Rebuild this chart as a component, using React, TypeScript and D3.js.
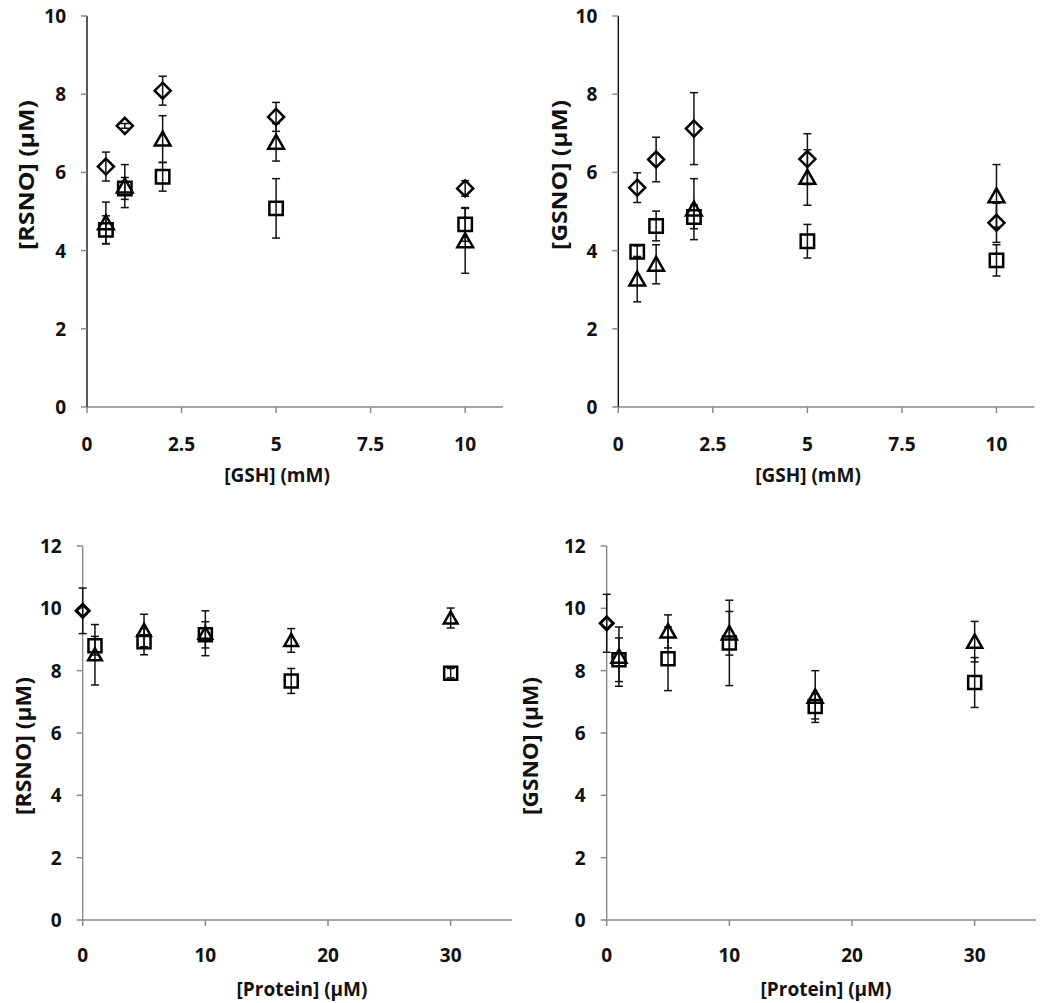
import React from "react";
import * as d3 from "d3";

// ---------- DATA ----------
const gshX = [0.5, 1, 2, 5, 10];
const protX = [1, 5, 10, 17, 30];
const ctrlX = [0];

const gshTicks = [0, 2.5, 5, 7.5, 10];
const protTicks = [0, 10, 20, 30];
const topYTicks = [0, 2, 4, 6, 8, 10];
const botYTicks = [0, 2, 4, 6, 8, 10, 12];

// top-left: [RSNO] vs [GSH]
const aDiamond = [6.15, 7.19, 8.09, 7.42, 5.59];
const aDiamondErr = [0.37, 0.06, 0.37, 0.37, 0.2];
const aSquare = [4.53, 5.59, 5.89, 5.08, 4.67];
const aSquareErr = [0.36, 0.28, 0.37, 0.76, 0.43];
const aTriangle = [4.71, 5.65, 6.85, 6.77, 4.25];
const aTriangleErr = [0.53, 0.55, 0.6, 0.48, 0.83];

// top-right: [GSNO] vs [GSH]
const bDiamond = [5.61, 6.33, 7.12, 6.34, 4.71];
const bDiamondErr = [0.38, 0.57, 0.92, 0.65, 0.5];
const bSquare = [3.97, 4.63, 4.86, 4.24, 3.75];
const bSquareErr = [0.15, 0.38, 0.3, 0.43, 0.4];
const bTriangle = [3.27, 3.65, 5.06, 5.87, 5.4];
const bTriangleErr = [0.58, 0.5, 0.78, 0.71, 0.8];

// bottom-left: [RSNO] vs [Protein]
const cDiamond = [9.92];
const cDiamondErr = [0.73];
const cSquare = [8.8, 8.93, 9.15, 7.67, 7.92];
const cSquareErr = [0.3, 0.42, 0.42, 0.4, 0.15];
const cTriangle = [8.51, 9.29, 9.2, 8.97, 9.69];
const cTriangleErr = [0.97, 0.52, 0.72, 0.38, 0.32];

// bottom-right: [GSNO] vs [Protein]
const dDiamond = [9.52];
const dDiamondErr = [0.93];
const dSquare = [8.35, 8.38, 8.89, 6.85, 7.62];
const dSquareErr = [0.7, 1.02, 1.37, 0.4, 0.8];
const dTriangle = [8.45, 9.26, 9.2, 7.17, 8.93];
const dTriangleErr = [0.95, 0.53, 0.7, 0.83, 0.65];

// ---------- RENDERING ----------
const FONT = "'Open Sans', sans-serif";

type Series = { shape: "diamond" | "square" | "triangle"; xs: number[]; ys: number[]; err: number[]; size: number; sw: number };

type PanelCfg = {
  x0: number; x1: number; y0: number; y1: number;
  xMax: number; yMax: number;
  xTicks: number[]; yTicks: number[];
  xTitle: string; yTitle: string;
  xTitlePos: [number, number]; yTitlePos: [number, number]; yTitleLen: number;
  xLabelY: number; yAxisColor: string;
  series: Series[];
};

function markerPath(shape: string, s: number) {
  if (shape === "diamond") return `M0,${-s}L${s},0L0,${s}L${-s},0Z`;
  if (shape === "square") return `M${-s},${-s}H${s}V${s}H${-s}Z`;
  return `M0,${-s}L${s * 1.05},${s * 0.85}H${-s * 1.05}Z`;
}

function Panel({ cfg }: { cfg: PanelCfg }) {
  const x = d3.scaleLinear().domain([0, cfg.xMax]).range([cfg.x0, cfg.x1]);
  const y = d3.scaleLinear().domain([0, cfg.yMax]).range([cfg.y0, cfg.y1]);
  const grey = "#8a8a8a";
  return (
    <g>
      {/* x axis */}
      <line x1={cfg.x0} x2={cfg.x1} y1={cfg.y0} y2={cfg.y0} stroke={grey} strokeWidth={1.5} />
      {cfg.xTicks.map((t) => (
        <g key={"xt" + t}>
          <line x1={x(t)} x2={x(t)} y1={cfg.y0} y2={cfg.y0 + 6} stroke={grey} strokeWidth={1.5} />
          <text x={x(t)} y={cfg.xLabelY} textAnchor="middle" dominantBaseline="central" fontFamily={FONT} fontWeight={700} fontSize={19} fill="#111">{t}</text>
        </g>
      ))}
      {/* y axis */}
      <line x1={cfg.x0} x2={cfg.x0} y1={cfg.y0} y2={y(cfg.yMax)} stroke={cfg.yAxisColor} strokeWidth={1.4} />
      {cfg.yTicks.map((t) => (
        <g key={"yt" + t}>
          <line x1={cfg.x0 - 6} x2={cfg.x0} y1={y(t)} y2={y(t)} stroke={grey} strokeWidth={1.5} />
          <text x={cfg.x0 - 21} y={y(t)} textAnchor="end" dominantBaseline="central" fontFamily={FONT} fontWeight={700} fontSize={19} fill="#111">{t}</text>
        </g>
      ))}
      {/* titles */}
      <text x={cfg.xTitlePos[0]} y={cfg.xTitlePos[1]} textAnchor="middle" dominantBaseline="central" fontFamily={FONT} fontWeight={700} fontSize={19} fill="#111">{cfg.xTitle}</text>
      <text transform={`translate(${cfg.yTitlePos[0]},${cfg.yTitlePos[1]}) rotate(-90)`} textAnchor="middle" dominantBaseline="central" fontFamily={FONT} fontWeight={700} fontSize={21} fill="#111" textLength={cfg.yTitleLen} lengthAdjust="spacingAndGlyphs">{cfg.yTitle}</text>
      {/* error bars */}
      {cfg.series.map((s, si) =>
        s.xs.map((xv, i) => {
          const px = x(xv);
          const top = y(s.ys[i] + s.err[i]);
          const bot = y(s.ys[i] - s.err[i]);
          return (
            <g key={`e${si}-${i}`} stroke="#111" strokeWidth={1.5}>
              <line x1={px} x2={px} y1={top} y2={bot} />
              <line x1={px - 4} x2={px + 4} y1={top} y2={top} />
              <line x1={px - 4} x2={px + 4} y1={bot} y2={bot} />
            </g>
          );
        })
      )}
      {/* markers */}
      {cfg.series.map((s, si) =>
        s.xs.map((xv, i) => (
          <path key={`m${si}-${i}`} transform={`translate(${x(xv)},${y(s.ys[i])})`} d={markerPath(s.shape, s.size)} fill="none" stroke="#000" strokeWidth={s.sw} strokeLinejoin="miter" />
        ))
      )}
    </g>
  );
}

const panels: PanelCfg[] = [
  {
    x0: 87, x1: 503, y0: 407, y1: 16, xMax: 11, yMax: 10,
    xTicks: gshTicks, yTicks: topYTicks, xTitle: "[GSH] (mM)", yTitle: "[RSNO] (μM)",
    xTitlePos: [277, 475], yTitlePos: [26, 175], yTitleLen: 150, xLabelY: 444, yAxisColor: "#111",
    series: [
      { shape: "diamond", xs: gshX, ys: aDiamond, err: aDiamondErr, size: 8, sw: 2.5 },
      { shape: "square", xs: gshX, ys: aSquare, err: aSquareErr, size: 6.7, sw: 2.5 },
      { shape: "triangle", xs: gshX, ys: aTriangle, err: aTriangleErr, size: 7.5, sw: 2.5 },
    ],
  },
  {
    x0: 618.3, x1: 1034.3, y0: 407, y1: 16, xMax: 11, yMax: 10,
    xTicks: gshTicks, yTicks: topYTicks, xTitle: "[GSH] (mM)", yTitle: "[GSNO] (μM)",
    xTitlePos: [808, 475], yTitlePos: [559, 175], yTitleLen: 150, xLabelY: 444, yAxisColor: "#111",
    series: [
      { shape: "diamond", xs: gshX, ys: bDiamond, err: bDiamondErr, size: 8, sw: 2.5 },
      { shape: "square", xs: gshX, ys: bSquare, err: bSquareErr, size: 6.7, sw: 2.5 },
      { shape: "triangle", xs: gshX, ys: bTriangle, err: bTriangleErr, size: 7.5, sw: 2.5 },
    ],
  },
  {
    x0: 82.7, x1: 512, y0: 920, y1: 546, xMax: 35, yMax: 12,
    xTicks: protTicks, yTicks: botYTicks, xTitle: "[Protein] (μM)", yTitle: "[RSNO] (μM)",
    xTitlePos: [302, 989], yTitlePos: [23, 746], yTitleLen: 138, xLabelY: 955, yAxisColor: "#8a8a8a",
    series: [
      { shape: "diamond", xs: ctrlX, ys: cDiamond, err: cDiamondErr, size: 6.5, sw: 3 },
      { shape: "square", xs: protX, ys: cSquare, err: cSquareErr, size: 6.5, sw: 2.5 },
      { shape: "triangle", xs: protX, ys: cTriangle, err: cTriangleErr, size: 6.5, sw: 2.5 },
    ],
  },
  {
    x0: 606.7, x1: 1036, y0: 920, y1: 546, xMax: 35, yMax: 12,
    xTicks: protTicks, yTicks: botYTicks, xTitle: "[Protein] (μM)", yTitle: "[GSNO] (μM)",
    xTitlePos: [826, 989], yTitlePos: [530, 746], yTitleLen: 138, xLabelY: 955, yAxisColor: "#8a8a8a",
    series: [
      { shape: "diamond", xs: ctrlX, ys: dDiamond, err: dDiamondErr, size: 6.5, sw: 3 },
      { shape: "square", xs: protX, ys: dSquare, err: dSquareErr, size: 6.5, sw: 2.5 },
      { shape: "triangle", xs: protX, ys: dTriangle, err: dTriangleErr, size: 7.2, sw: 2.5 },
    ],
  },
];

export default function App() {
  return (
    <svg width={1050} height={1003} style={{ position: "absolute", left: 0, top: 0, background: "#fff" }}>
      <rect width={1050} height={1003} fill="#fff" />
      {panels.map((p, i) => (
        <Panel key={i} cfg={p} />
      ))}
    </svg>
  );
}
